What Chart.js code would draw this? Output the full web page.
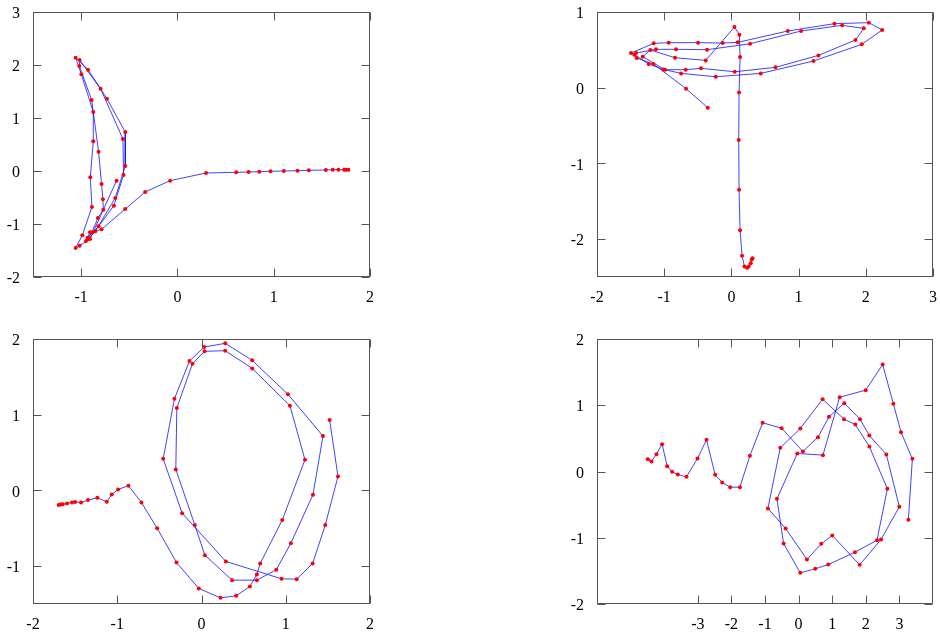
<!DOCTYPE html>
<html>
<head>
<meta charset="utf-8">
<title>Trajectories</title>
<script src="https://cdn.jsdelivr.net/npm/chart.js@4.4.0/dist/chart.umd.min.js"></script>
<style>
    body { margin: 0; background: #fff; }
    #wrap { position: relative; width: 940px; height: 637px; background: #fff; }
    canvas { position: absolute; }
</style>
</head>
<body>
<div id="wrap">
    <canvas id="c1" width="470" height="318" style="left:0;top:0"></canvas>
    <canvas id="c2" width="470" height="318" style="left:470px;top:0"></canvas>
    <canvas id="c3" width="470" height="319" style="left:0;top:318px"></canvas>
    <canvas id="c4" width="470" height="319" style="left:470px;top:318px"></canvas>
</div>
<script>
// top left
const p1X = [-0.632, -0.908, -1.016, -1.057, -0.988, -0.888, -0.905, -0.874, -0.874, -0.998, -1.057, -0.929, -0.732, -0.542, -0.542, -0.646, -0.853, -0.922, -0.950, -0.888, -0.826, -0.770, -0.774, -0.788, -0.819, -0.891, -1.019, -1.016, -0.798, -0.566, -0.560, -0.660, -0.819, -0.933, -0.908, -0.788, -0.542, -0.335, -0.076, 0.297, 0.611, 0.739, 0.850, 0.967, 1.105, 1.247, 1.364, 1.541, 1.613, 1.672, 1.731, 1.751, 1.776];
const p1Y = [-0.182, -1.283, -1.409, -1.453, -1.214, -0.679, -0.119, 0.560, 1.113, 1.824, 2.138, 1.912, 1.365, 0.736, 0.094, -0.509, -1.138, -1.277, -1.321, -1.157, -0.887, -0.730, -0.535, -0.245, 0.365, 1.340, 1.981, 2.094, 1.553, 0.604, -0.075, -0.654, -1.044, -1.258, -1.157, -1.101, -0.717, -0.396, -0.182, -0.038, -0.025, -0.019, -0.013, -0.006, 0.0, 0.006, 0.013, 0.019, 0.025, 0.025, 0.025, 0.025, 0.025];
const p1XTicks = [-1, 0, 1, 2];
const p1YTicks = [-2, -1, 0, 1, 2, 3];

// top right
const p2X = [-0.352, -0.675, -1.161, -1.409, -1.494, -1.156, -0.933, -0.496, -0.129, 0.094, 0.839, 1.533, 2.045, 2.243, 1.940, 1.221, 0.437, -0.233, -0.749, -1.012, -1.231, -1.444, -1.419, -1.122, -0.824, -0.362, 0.278, 1.037, 1.648, 1.970, 1.846, 1.295, 0.655, 0.050, -0.452, -0.680, -0.988, -1.320, -1.206, -0.839, -0.382, 0.045, 0.119, 0.129, 0.114, 0.109, 0.114, 0.129, 0.159, 0.194, 0.233, 0.258, 0.288, 0.303, 0.313];
const p2Y = [-0.264, -0.013, 0.313, 0.392, 0.458, 0.586, 0.595, 0.595, 0.590, 0.599, 0.749, 0.846, 0.859, 0.762, 0.573, 0.352, 0.189, 0.145, 0.189, 0.242, 0.313, 0.436, 0.458, 0.507, 0.507, 0.502, 0.581, 0.749, 0.824, 0.784, 0.630, 0.427, 0.269, 0.211, 0.256, 0.238, 0.238, 0.410, 0.498, 0.396, 0.361, 0.802, 0.700, 0.405, -0.062, -0.692, -1.348, -1.881, -2.220, -2.361, -2.379, -2.361, -2.317, -2.269, -2.251];
const p2XTicks = [-2, -1, 0, 1, 2, 3];
const p2YTicks = [-2, -1, 0, 1];

// bottom left
const p3X = [-1.695, -1.675, -1.648, -1.596, -1.537, -1.501, -1.430, -1.347, -1.236, -1.125, -1.065, -0.990, -0.867, -0.713, -0.527, -0.297, -0.032, 0.226, 0.412, 0.574, 0.657, 0.697, 0.958, 1.228, 1.050, 0.602, 0.281, 0.036, -0.107, -0.293, -0.305, -0.079, 0.040, 0.364, 0.657, 0.887, 1.061, 1.323, 1.442, 1.026, 0.602, 0.281, 0.032, -0.143, -0.321, -0.455, -0.230, 0.289, 0.950, 1.129, 1.319, 1.469, 1.620, 1.521];
const p3Y = [-0.194, -0.185, -0.181, -0.172, -0.159, -0.154, -0.159, -0.128, -0.097, -0.150, -0.053, 0.013, 0.062, -0.159, -0.498, -0.952, -1.295, -1.419, -1.392, -1.269, -1.110, -0.965, -0.392, 0.405, 1.119, 1.612, 1.846, 1.837, 1.674, 1.088, 0.278, -0.458, -0.855, -1.185, -1.185, -1.048, -0.696, -0.057, 0.718, 1.269, 1.718, 1.943, 1.894, 1.709, 1.211, 0.419, -0.300, -0.938, -1.167, -1.172, -0.965, -0.458, 0.185, 0.930];
const p3XTicks = [-2, -1, 0, 1, 2];
const p3YTicks = [-1, 0, 1, 2];

// bottom right
const p4X = [-4.489, -4.379, -4.230, -4.062, -3.913, -3.764, -3.595, -3.337, -3.009, -2.741, -2.483, -2.274, -2.036, -1.748, -1.450, -1.072, -0.506, 0.129, 0.576, 0.904, 1.360, 1.827, 2.105, 2.612, 2.999, 2.453, 1.817, 1.003, 0.675, 0.248, -0.387, -0.914, -0.546, 0.050, 0.715, 1.351, 1.688, 2.105, 2.642, 2.334, 1.678, 0.884, 0.497, 0.050, -0.447, -0.645, -0.040, 0.725, 1.221, 1.996, 2.502, 2.820, 3.049, 3.386, 3.267];
const p4Y = [0.186, 0.151, 0.262, 0.413, 0.081, -0.005, -0.045, -0.081, 0.196, 0.478, -0.050, -0.166, -0.236, -0.236, 0.236, 0.735, 0.654, 0.302, 0.518, 0.825, 1.031, 0.790, 0.543, 0.257, -0.533, -1.026, -1.409, -0.966, -1.092, -1.328, -0.860, -0.558, 0.357, 0.649, 1.092, 0.790, 0.709, 0.377, -0.262, -1.036, -1.218, -1.404, -1.469, -1.530, -1.087, -0.413, 0.272, 0.247, 1.122, 1.228, 1.615, 1.021, 0.594, 0.191, -0.730];
const p4XTicks = [-3, -2, -1, 0, 1, 2, 3];
const p4YTicks = [-2, -1, 0, 1, 2];

const FONT = { family: "'Liberation Serif', 'DejaVu Serif', serif", size: 16 };
const Y_AXIS_W = 33;
const TICK_LEN = 8;

// pgfplots style box: frame plus inward ticks on all four sides
const frameTicks = {
    id: "frameTicks",
    afterDraw(chart) {
        const { ctx, chartArea: a, scales } = chart;
        ctx.save();
        ctx.strokeStyle = "#555";
        ctx.lineWidth = 1;
        const l = Math.round(a.left) + 0.5, r = Math.round(a.right) - 0.5;
        const t = Math.round(a.top) + 0.5, b = Math.round(a.bottom) - 0.5;
        ctx.strokeRect(l, t, r - l, b - t);
        ctx.beginPath();
        scales.x.ticks.forEach((tk) => {
            const px = Math.round(scales.x.getPixelForValue(tk.value)) + 0.5;
            ctx.moveTo(px, b); ctx.lineTo(px, b - TICK_LEN);
            ctx.moveTo(px, t); ctx.lineTo(px, t + TICK_LEN);
        });
        scales.y.ticks.forEach((tk) => {
            const py = Math.round(scales.y.getPixelForValue(tk.value)) + 0.5;
            ctx.moveTo(l, py); ctx.lineTo(l + TICK_LEN, py);
            ctx.moveTo(r, py); ctx.lineTo(r - TICK_LEN, py);
        });
        ctx.stroke();
        ctx.restore();
    },
};

function label(v) {
    return v < 0 ? "-" + Math.abs(v) : String(v);
}

function makePanel(id, xs, ys, xRange, yRange, xTicks, yTicks, box) {
    const canvas = document.getElementById(id);
    const W = canvas.width, H = canvas.height;
    const points = xs.map((x, i) => ({ x: x, y: ys[i] }));
    new Chart(canvas, {
        type: "scatter",
        data: {
            datasets: [{
                data: points,
                showLine: true,
                borderColor: "rgba(0, 0, 255, 0.75)",
                borderWidth: 1,
                pointRadius: 2,
                pointBorderWidth: 0,
                pointBackgroundColor: "#ff0000",
                pointBorderColor: "#ff0000",
                tension: 0,
            }],
        },
        options: {
            responsive: false,
            animation: false,
            layout: { padding: { left: box.l - Y_AXIS_W, top: box.t, right: W - box.r, bottom: 0 } },
            plugins: { legend: { display: false }, tooltip: { enabled: false } },
            scales: {
                x: {
                    type: "linear",
                    min: xRange[0],
                    max: xRange[1],
                    afterBuildTicks: (s) => { s.ticks = xTicks.map((v) => ({ value: v })); },
                    afterFit: (s) => {
                        s.height = H - box.b;
                        s.paddingLeft = 0;
                        s.paddingRight = 0;
                    },
                    grid: { display: false, drawTicks: false },
                    border: { display: false },
                    ticks: { padding: 11, color: "#000", font: FONT, autoSkip: false, maxRotation: 0, callback: label },
                },
                y: {
                    type: "linear",
                    min: yRange[0],
                    max: yRange[1],
                    afterBuildTicks: (s) => { s.ticks = yTicks.map((v) => ({ value: v })); },
                    afterFit: (s) => {
                        s.width = Y_AXIS_W;
                        s.paddingTop = 0;
                        s.paddingBottom = 0;
                    },
                    grid: { display: false, drawTicks: false },
                    border: { display: false },
                    ticks: { padding: 13, color: "#000", font: FONT, autoSkip: false, labelOffset: 2, callback: label },
                },
            },
        },
        plugins: [frameTicks],
    });
}

makePanel("c1", p1X, p1Y, [-1.5, 2], [-2, 3], p1XTicks, p1YTicks, { l: 33, t: 12, r: 370, b: 277 });
makePanel("c2", p2X, p2Y, [-2, 3], [-2.5, 1], p2XTicks, p2YTicks, { l: 127, t: 12, r: 463, b: 277 });
makePanel("c3", p3X, p3Y, [-2, 2], [-1.5, 2], p3XTicks, p3YTicks, { l: 33, t: 21, r: 370, b: 286 });
makePanel("c4", p4X, p4Y, [-6, 4], [-2, 2], p4XTicks, p4YTicks, { l: 127, t: 21, r: 463, b: 286 });
</script>
</body>
</html>
